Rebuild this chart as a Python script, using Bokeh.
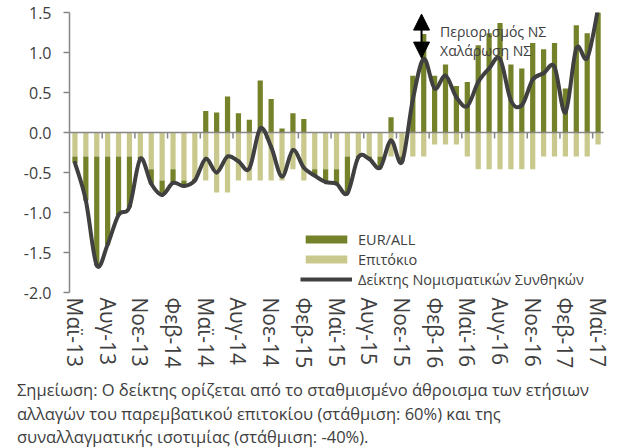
from bokeh.plotting import figure
from bokeh.models import (Range1d, FixedTicker, NumeralTickFormatter, Legend, LegendItem,
                          Arrow, NormalHead, Label, Div)
from bokeh.layouts import column
from bokeh.embed import file_html
from bokeh.resources import INLINE

# ---- data (monthly, May-2013 .. May-2017) ----
fx = [-0.08, -0.55, -1.36, -1.10, -0.73, -0.63, -0.03, -0.18, -0.18, -0.17,
      -0.07, -0.02, 0.27, 0.25, 0.45, 0.24, 0.16, 0.65, 0.42, 0.05,
      0.24, 0.17, -0.08, -0.16, -0.18, -0.46, -0.01, -0.03, -0.14, 0.19,
      -0.07, 0.71, 1.23, 0.71, 0.85, 0.58, 0.63, 1.09, 1.24, 1.37,
      0.85, 0.80, 1.12, 1.04, 1.12, 0.55, 1.34, 1.24, 1.70]
rate = [-0.30, -0.30, -0.30, -0.30, -0.30, -0.30, -0.30, -0.46, -0.60, -0.46,
        -0.60, -0.58, -0.60, -0.75, -0.75, -0.60, -0.60, -0.60, -0.60, -0.60,
        -0.46, -0.60, -0.46, -0.46, -0.46, -0.30, -0.30, -0.30, -0.30, -0.30,
        -0.30, -0.30, -0.30, -0.15, -0.15, -0.15, -0.30, -0.46, -0.46, -0.46,
        -0.46, -0.46, -0.46, -0.30, -0.30, -0.30, -0.30, -0.30, -0.15]
mci = [-0.38, -0.85, -1.66, -1.40, -1.03, -0.93, -0.33, -0.64, -0.78, -0.63,
       -0.67, -0.60, -0.33, -0.50, -0.30, -0.36, -0.45, 0.05, -0.18, -0.55,
       -0.22, -0.44, -0.54, -0.62, -0.64, -0.76, -0.31, -0.33, -0.44, -0.10,
       -0.37, 0.41, 0.92, 0.55, 0.71, 0.44, 0.33, 0.63, 0.80, 0.92,
       0.40, 0.34, 0.66, 0.74, 0.82, 0.25, 1.05, 0.93, 1.55]
tick_labels = ["Μαϊ-13", "Αυγ-13", "Νοε-13", "Φεβ-14", "Μαϊ-14", "Αυγ-14", "Νοε-14",
               "Φεβ-15", "Μαϊ-15", "Αυγ-15", "Νοε-15", "Φεβ-16", "Μαϊ-16", "Αυγ-16",
               "Νοε-16", "Φεβ-17", "Μαϊ-17"]
series_names = ["EUR/ALL", "Επιτόκιο", "Δείκτης Νομισματικών Συνθηκών"]

DARK = "#76822A"
LIGHT = "#C9C98E"
LINEC = "#404040"
TXT = "#404040"
AXC = "#868686"
FONT = "Open Sans"

n = len(mci)
xs = list(range(n))

# stacking: rate nearest zero (negative), fx on top (positive) or below rate (negative)
rate_bottom = [0.0] * n
rate_top = rate
fx_bottom = [0.0 if f >= 0 else r for f, r in zip(fx, rate)]
fx_top = [f if f >= 0 else r + f for f, r in zip(fx, rate)]

W, H = 617, 373
p = figure(width=W, height=H, output_backend="svg", toolbar_location=None,
           x_range=Range1d(-0.5, 49.78), y_range=Range1d(-2.0, 1.5),
           min_border_left=69, min_border_right=0, min_border_top=12, min_border_bottom=81)
p.outline_line_color = None
p.xgrid.visible = False
p.ygrid.visible = False
p.background_fill_color = "white"

r_rate = p.vbar(x=xs, bottom=rate_bottom, top=rate_top, width=0.48,
                fill_color=LIGHT, line_color=None)
r_fx = p.vbar(x=xs, bottom=fx_bottom, top=fx_top, width=0.48,
              fill_color=DARK, line_color=None)

# horizontal axis line at zero, with tick marks between categories every 3 months
p.segment(x0=[-0.5], y0=[0], x1=[n - 0.5], y1=[0], line_color=AXC, line_width=1.5)
tick_pos = [i + 2.5 for i in range(0, n - 1, 3)]
p.segment(x0=tick_pos, y0=[0] * len(tick_pos), x1=tick_pos, y1=[-0.075] * len(tick_pos),
          line_color=AXC, line_width=1.5)

# smoothed index line (Catmull-Rom style Bezier through the monthly values)
bx0, by0, bx1, by1, c0x, c0y, c1x, c1y = [], [], [], [], [], [], [], []
for k in range(n - 1):
    xa, ya = (xs[k - 1], mci[k - 1]) if k > 0 else (xs[k], mci[k])
    xb, yb = xs[k], mci[k]
    xc, yc = xs[k + 1], mci[k + 1]
    xd, yd = (xs[k + 2], mci[k + 2]) if k + 2 < n else (xs[k + 1], mci[k + 1])
    bx0.append(xb); by0.append(yb); bx1.append(xc); by1.append(yc)
    c0x.append(xb + (xc - xa) / 6.0); c0y.append(yb + (yc - ya) / 6.0)
    c1x.append(xc - (xd - xb) / 6.0); c1y.append(yc - (yd - yb) / 6.0)
p.bezier(x0=bx0, y0=by0, x1=bx1, y1=by1, cx0=c0x, cy0=c0y, cx1=c1x, cy1=c1y,
         line_color=LINEC, line_width=4, line_cap="round")
# legend proxy for the index line (draws nothing in the plot)
r_line_proxy = p.line(x=[float("nan")], y=[float("nan")], line_color=LINEC, line_width=4)

# axes
p.yaxis.ticker = FixedTicker(ticks=[-2.0, -1.5, -1.0, -0.5, 0.0, 0.5, 1.0, 1.5])
p.yaxis.formatter = NumeralTickFormatter(format="0.0")
p.yaxis.axis_line_color = AXC
p.yaxis.axis_line_width = 1.5
p.yaxis.major_tick_line_color = AXC
p.yaxis.major_tick_line_width = 1.5
p.yaxis.major_tick_out = 6
p.yaxis.major_tick_in = 0
p.yaxis.minor_tick_line_color = None
p.yaxis.minor_tick_out = 0
p.yaxis.major_label_text_font = FONT
p.yaxis.major_label_text_font_size = "16px"
p.yaxis.major_label_text_color = TXT
p.yaxis.major_label_standoff = 12

x_ticks = list(range(0, n, 3))
p.xaxis.ticker = FixedTicker(ticks=x_ticks)
p.xaxis.major_label_overrides = {t: lab for t, lab in zip(x_ticks, tick_labels)}
p.xaxis.major_label_orientation = "vertical"
p.xaxis.axis_line_color = None
p.xaxis.major_tick_line_color = None
p.xaxis.minor_tick_line_color = None
p.xaxis.major_tick_out = 0
p.xaxis.major_tick_in = 0
p.xaxis.minor_tick_out = 0
p.xaxis.minor_tick_in = 0
p.xaxis.major_label_text_font = FONT
p.xaxis.major_label_text_font_size = "21px"
p.xaxis.major_label_text_color = TXT
p.xaxis.major_label_standoff = 5

# legend
legend = Legend(items=[LegendItem(label=series_names[0], renderers=[r_fx]),
                       LegendItem(label=series_names[1], renderers=[r_rate]),
                       LegendItem(label=series_names[2], renderers=[r_line_proxy])],
                location=(231, 3), orientation="vertical",
                glyph_width=52, glyph_height=10, label_height=20, label_standoff=6,
                spacing=0, padding=0, margin=0,
                border_line_color=None, background_fill_alpha=0,
                label_text_font=FONT, label_text_font_size="14.5px", label_text_color=TXT)
p.add_layout(legend, "center")

# annotation: tightening / easing
p.add_layout(Arrow(start=NormalHead(size=16, fill_color="black", line_color="black"),
                   end=NormalHead(size=16, fill_color="black", line_color="black"),
                   x_start=31.8, y_start=0.93, x_end=31.8, y_end=1.48,
                   line_color="black", line_width=2))
p.add_layout(Label(x=33.5, y=1.26, text="Περιορισμός ΝΣ", text_font=FONT,
                   text_font_size="14px", text_color=TXT, text_baseline="middle"))
p.add_layout(Label(x=33.5, y=1.02, text="Χαλάρωση ΝΣ", text_font=FONT,
                   text_font_size="14px", text_color=TXT, text_baseline="middle"))

note = Div(text=("Σημείωση: Ο δείκτης ορίζεται από το σταθμισμένο άθροισμα των ετήσιων<br>"
                 "αλλαγών του παρεμβατικού επιτοκίου (στάθμιση: 60%) και της<br>"
                 "συναλλαγματικής ισοτιμίας (στάθμιση: -40%)."),
           width=W, height=72,
           styles={"font-family": "Open Sans", "font-size": "16.5px", "line-height": "23.5px",
                   "color": TXT, "padding-left": "12px", "white-space": "nowrap"})

layout = column(p, note, spacing=0)
open("out.html", "w").write(file_html(layout, INLINE))
